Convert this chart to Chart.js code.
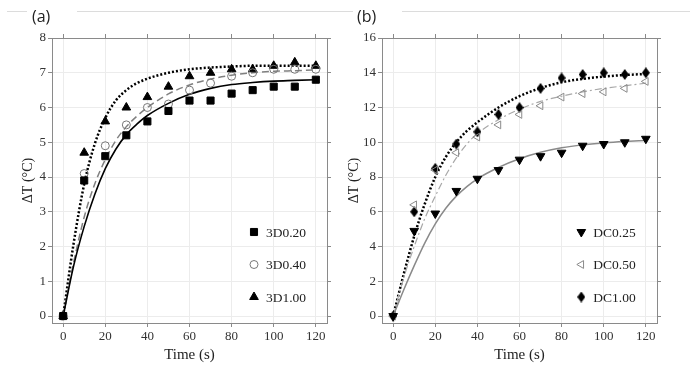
<!DOCTYPE html>
<html>
<head>
<meta charset="utf-8">
<script src="https://cdn.jsdelivr.net/npm/chart.js@4.4.1/dist/chart.umd.min.js"></script>
<style>
  html, body { margin: 0; padding: 0; background: #fff; }
  #wrap { position: relative; width: 694px; height: 367px; overflow: hidden; }
  #boxA { position: absolute; left: 0; top: 0; }
  #boxB { position: absolute; left: 340px; top: 0; }
</style>
</head>
<body>
<div id="wrap">
  <div id="boxA"><canvas id="chartA" width="347" height="367"></canvas></div>
  <div id="boxB"><canvas id="chartB" width="354" height="367"></canvas></div>
</div>
<script>
// measured points (s, deg C)
const timeS = [0, 10, 20, 30, 40, 50, 60, 70, 80, 90, 100, 110, 120];
const dT_3D020 = [0, 3.9, 4.6, 5.2, 5.6, 5.9, 6.2, 6.2, 6.4, 6.5, 6.6, 6.6, 6.8];
const dT_3D040 = [0, 4.1, 4.9, 5.5, 6.0, 6.1, 6.5, 6.7, 6.9, 7.0, 7.1, 7.1, 7.1];
const dT_3D100 = [0, 4.7, 5.6, 6.0, 6.3, 6.6, 6.9, 7.0, 7.1, 7.1, 7.2, 7.3, 7.2];
const dT_DC025 = [0, 4.9, 5.9, 7.2, 7.9, 8.4, 9.0, 9.2, 9.4, 9.8, 9.9, 10.0, 10.2];
const dT_DC050 = [0, 6.4, 8.4, 9.4, 10.3, 11.0, 11.6, 12.1, 12.6, 12.8, 12.9, 13.1, 13.5];
const dT_DC100 = [0, 6.0, 8.5, 9.9, 10.6, 11.6, 12.0, 13.1, 13.7, 13.9, 14.0, 13.9, 14.0];

// fitted curves
const fitTime = [0, 5, 10, 15, 20, 25, 30, 35, 40, 50, 60, 70, 80, 90, 100, 110, 120];
const fit_3D020 = [0, 1.45, 2.58, 3.5, 4.24, 4.8, 5.22, 5.52, 5.77, 6.12, 6.38, 6.55, 6.66, 6.72, 6.76, 6.78, 6.8];
const fit_3D040 = [0, 1.55, 2.85, 3.8, 4.5, 5.05, 5.45, 5.75, 6.0, 6.39, 6.65, 6.82, 6.93, 7.0, 7.04, 7.06, 7.08];
const fit_3D100 = [0, 2.1, 3.8, 4.95, 5.7, 6.2, 6.5, 6.7, 6.83, 7.0, 7.1, 7.15, 7.18, 7.2, 7.2, 7.2, 7.2];
const fit_DC025 = [0, 1.5, 2.9, 4.2, 5.3, 6.2, 6.9, 7.45, 7.9, 8.55, 9.05, 9.42, 9.68, 9.85, 9.96, 10.04, 10.1];
const fit_DC050 = [0, 2.2, 4.0, 5.6, 6.9, 8.1, 9.1, 9.9, 10.5, 11.3, 11.9, 12.35, 12.65, 12.9, 13.1, 13.25, 13.4];
const fit_DC100 = [0, 2.4, 4.6, 6.45, 8.0, 9.15, 10.0, 10.65, 11.15, 12.0, 12.65, 13.12, 13.45, 13.65, 13.78, 13.87, 13.93];

// axis ticks
const xTicks = [0, 20, 40, 60, 80, 100, 120];
const yTicksA = [0, 1, 2, 3, 4, 5, 6, 7, 8];
const yTicksB = [0, 2, 4, 6, 8, 10, 12, 14, 16];

const serif = '"Liberation Serif", "DejaVu Serif", serif';
const frameColor = '#8a8a8a';
const gridColor = '#ececec';

function pts(xs, ys) {
  return xs.map((x, i) => ({x: x, y: ys[i]}));
}

// tall diamond marker for DC1.00
function tallDiamond() {
  const c = document.createElement('canvas');
  c.width = 8; c.height = 11;
  const g = c.getContext('2d');
  g.fillStyle = '#000';
  g.beginPath();
  g.moveTo(4, 0); g.lineTo(8, 5.5); g.lineTo(4, 11); g.lineTo(0, 5.5);
  g.closePath();
  g.fill();
  return c;
}

function markers(label, ys, style, extra) {
  return Object.assign({
    type: 'scatter',
    label: label,
    data: pts(timeS, ys),
    pointStyle: style,
    pointRadius: 4.5,
    pointHoverRadius: 4.5,
    backgroundColor: '#000',
    borderColor: '#000',
    borderWidth: 1,
    showLine: false
  }, extra || {});
}

function fitLine(ys, color, width, dash) {
  return {
    type: 'line',
    label: '',
    data: pts(fitTime, ys),
    pointRadius: 0,
    pointHoverRadius: 0,
    borderColor: color,
    borderWidth: width,
    borderDash: dash,
    cubicInterpolationMode: 'monotone',
    fill: false
  };
}

function setTicks(vals) {
  return function (scale) { scale.ticks = vals.map(v => ({value: v})); };
}

// header rule, panel letter and in-plot legend
const panelDecor = {
  id: 'panelDecor',
  afterDraw(chart, args, opts) {
    const ctx = chart.ctx;
    ctx.save();
    ctx.strokeStyle = '#dcdcdc';
    ctx.lineWidth = 1;
    opts.rule.forEach(seg => {
      ctx.beginPath();
      ctx.moveTo(seg[0], 11.5);
      ctx.lineTo(seg[1], 11.5);
      ctx.stroke();
    });
    ctx.fillStyle = '#222';
    ctx.font = '16px "Open Sans", sans-serif';
    ctx.textBaseline = 'middle';
    ctx.textAlign = 'left';
    ctx.fillText(opts.letter, opts.letterX, 17);

    ctx.font = '13.5px ' + serif;
    opts.items.forEach((idx, i) => {
      const ds = chart.data.datasets[idx];
      const y = opts.legendY[i];
      ctx.fillStyle = ds.backgroundColor;
      ctx.strokeStyle = ds.borderColor;
      ctx.lineWidth = ds.borderWidth;
      Chart.helpers.drawPoint(ctx, {
        pointStyle: ds.pointStyle,
        rotation: ds.rotation || 0,
        radius: ds.pointRadius,
        borderWidth: ds.borderWidth
      }, opts.legendX, y);
      ctx.fillStyle = '#222';
      ctx.fillText(ds.label, opts.legendX + 12, y + 1);
    });
    ctx.restore();
  }
};

function axes(yMin, yMax, yTicks, yWidth, titlePad) {
  const tickFont = {family: serif, size: 13};
  return {
    x: {
      type: 'linear', position: 'bottom', min: -5.3, max: 125.3,
      afterBuildTicks: setTicks(xTicks),
      afterFit: s => { s.height = 44; },
      grid: {color: gridColor, tickColor: frameColor, tickLength: 4},
      border: {color: frameColor, width: 1},
      ticks: {font: tickFont, color: '#333', padding: 2, maxRotation: 0, autoSkip: false},
      title: {display: true, text: 'Time (s)', font: {family: serif, size: 15}, color: '#222', padding: {top: 0, bottom: 3}}
    },
    x2: {
      type: 'linear', position: 'top', min: -5.3, max: 125.3,
      afterBuildTicks: setTicks(xTicks),
      afterFit: s => { s.height = 4; },
      grid: {drawOnChartArea: false, tickColor: frameColor, tickLength: 4},
      border: {color: frameColor, width: 1},
      ticks: {display: false}
    },
    y: {
      type: 'linear', position: 'left', min: yMin, max: yMax,
      afterBuildTicks: setTicks(yTicks),
      afterFit: s => { s.width = yWidth; },
      grid: {color: gridColor, tickColor: frameColor, tickLength: 4},
      border: {color: frameColor, width: 1},
      ticks: {font: tickFont, color: '#333', padding: 2, autoSkip: false},
      title: {display: true, text: 'ΔT (°C)', font: {family: serif, size: 14}, color: '#222', padding: {top: titlePad, bottom: 0}}
    },
    y2: {
      type: 'linear', position: 'right', min: yMin, max: yMax,
      afterBuildTicks: setTicks(yTicks),
      afterFit: s => { s.width = 4; },
      grid: {drawOnChartArea: false, tickColor: frameColor, tickLength: 4},
      border: {color: frameColor, width: 1},
      ticks: {display: false}
    }
  };
}

const chartA = new Chart(document.getElementById('chartA'), {
  type: 'scatter',
  data: {
    datasets: [
      markers('3D0.20', dT_3D020, 'rect', {pointRadius: 5}),
      markers('3D0.40', dT_3D040, 'circle', {pointRadius: 4, backgroundColor: 'rgba(0,0,0,0)', borderColor: '#777'}),
      markers('3D1.00', dT_3D100, 'triangle', {pointRadius: 5}),
      fitLine(fit_3D020, '#000', 1.6, []),
      fitLine(fit_3D040, '#808080', 1.5, [7, 4]),
      fitLine(fit_3D100, '#000', 2.5, [2, 2])
    ]
  },
  options: {
    responsive: false,
    animation: false,
    devicePixelRatio: 1,
    layout: {padding: {left: 0, top: 34, right: 16, bottom: 0}},
    plugins: {
      legend: {display: false},
      tooltip: {enabled: false},
      panelDecor: {
        rule: [[7, 27], [77, 347]],
        letter: '(a)', letterX: 32,
        items: [0, 1, 2], legendX: 254, legendY: [232, 264.5, 297]
      }
    },
    scales: axes(-0.2, 8, yTicksA, 52, 20)
  },
  plugins: [panelDecor]
});

const chartB = new Chart(document.getElementById('chartB'), {
  type: 'scatter',
  data: {
    datasets: [
      markers('DC0.25', dT_DC025, 'triangle', {pointRadius: 5, rotation: 180}),
      markers('DC0.50', dT_DC050, 'triangle', {pointRadius: 4.5, rotation: 270, backgroundColor: 'rgba(0,0,0,0)', borderColor: '#8a8a8a'}),
      markers('DC1.00', dT_DC100, tallDiamond(), {pointRadius: 5}),
      fitLine(fit_DC025, '#8a8a8a', 1.5, []),
      fitLine(fit_DC050, '#a8a8a8', 1.2, [7, 3, 2, 3]),
      fitLine(fit_DC100, '#000', 2.5, [2, 2])
    ]
  },
  options: {
    responsive: false,
    animation: false,
    devicePixelRatio: 1,
    layout: {padding: {left: 0, top: 34, right: 33, bottom: 0}},
    plugins: {
      legend: {display: false},
      tooltip: {enabled: false},
      panelDecor: {
        rule: [[7, 13], [62, 350]],
        letter: '(b)', letterX: 17,
        items: [0, 1, 2], legendX: 241.3, legendY: [232, 264.5, 297]
      }
    },
    scales: axes(-0.4, 16, yTicksB, 42, 6)
  },
  plugins: [panelDecor]
});
</script>
</body>
</html>
